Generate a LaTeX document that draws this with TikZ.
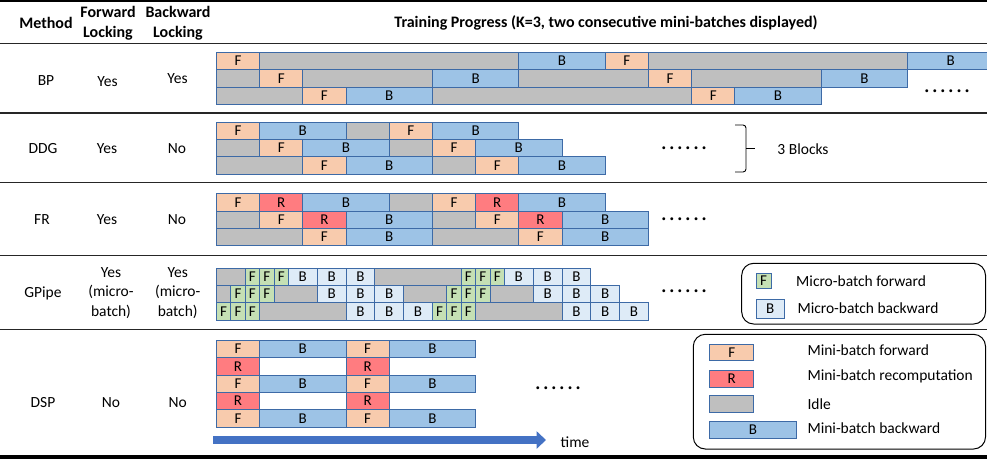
\documentclass[tikz,border=0pt]{standalone}
\usepackage{fontspec}
\setmainfont{Carlito}
\usetikzlibrary{arrows.meta}
\definecolor{fcol}{HTML}{F8CBAD}
\definecolor{rcol}{HTML}{FF7C80}
\definecolor{gcol}{HTML}{BFBFBF}
\definecolor{bcol}{HTML}{9DC3E6}
\definecolor{mfcol}{HTML}{C5E0B4}
\definecolor{mbcol}{HTML}{DEEBF7}
\definecolor{edgecol}{HTML}{3D6AA6}
\definecolor{arrcol}{HTML}{4472C4}
\newcounter{cellcnt}
\newcommand\bx[6]{%
  \stepcounter{cellcnt}%
  \node[cell,#1,minimum width={(#3-#2)*#6*1pt},anchor=north west] (c\arabic{cellcnt}) at ({216+#2*#6},#4) {#5};}
\newcommand\dotsix{.\kern2pt.\kern2pt.\kern2pt.\kern2pt.\kern2pt.}
\begin{document}
\begin{tikzpicture}[x=1pt,y=-1pt,
  cell/.style={draw=edgecol,line width=0.8pt,inner sep=0pt,minimum height=17.3pt,font=\fontsize{15}{18}\selectfont},
  fc/.style={fill=fcol}, rc/.style={fill=rcol}, gc/.style={fill=gcol}, bc/.style={fill=bcol},
  mf/.style={fill=mfcol}, mb/.style={fill=mbcol},
  txt/.style={font=\fontsize{15.5}{19}\selectfont,inner sep=0pt,align=center},
  hdr/.style={font=\fontsize{16}{20}\selectfont\bfseries,inner sep=0pt,align=center},
  rule/.style={line width=1.4pt,black!85},
  legbox/.style={draw=black,line width=1pt,rounded corners=12pt},
  dotsn/.style={font=\fontsize{24}{24}\selectfont,inner sep=0pt},
  lbl/.style={font=\fontsize{15.5}{19}\selectfont,inner sep=0pt,anchor=west}]
\useasboundingbox (0,0) rectangle (987,459);
\clip (0,0) rectangle (987,459);
% rules
\draw[line width=2pt,black] (0,1) -- (987,1);
\draw[line width=1.5pt,black!85] (0,43.5) -- (987,43.5);
\draw[rule] (0,113) -- (987,113);
\draw[rule] (0,182.7) -- (987,182.7);
\draw[rule] (0,255.7) -- (987,255.7);
\draw[rule] (0,329.5) -- (987,329.5);
\draw[line width=4pt,black] (0,456.5) -- (987,456.5);
% header
\node[hdr] (hm) at (46,23) {Method};
\node[hdr] (hf) at (108,23) {Forward\\Locking};
\node[hdr] (hb) at (178,23) {Backward\\Locking};
\node[hdr] (ht) at (606,23) {Training Progress (K=3, two consecutive mini-batches displayed)};
% row labels
\node[txt] (m1) at (46,81) {BP};
\node[txt] (f1) at (107.5,81.7) {Yes};
\node[txt] (b1) at (177.5,79) {Yes};
\node[txt] (m2) at (43,149) {DDG};
\node[txt] (f2) at (107,149) {Yes};
\node[txt] (b2) at (177,149) {No};
\node[txt] (m3) at (42,220) {FR};
\node[txt] (f3) at (107,220) {Yes};
\node[txt] (b3) at (177,220) {No};
\node[txt] (m4) at (43,293) {GPipe};
\node[txt,font=\fontsize{15.5}{19.3}\selectfont] (f4) at (111,293) {Yes\\(micro-\\batch)};
\node[txt,font=\fontsize{15.5}{19.3}\selectfont] (b4) at (177.7,293) {Yes\\(micro-\\batch)};
\node[txt] (m5) at (43,403) {DSP};
\node[txt] (f5) at (111,403) {No};
\node[txt] (b5) at (177.7,403) {No};
% BP
\foreach \s/\a/\b/\t in {fc/0/1/F, gc/1/7/{}, bc/7/9/B, fc/9/10/F, gc/10/16/{}, bc/16/18/B}
  {\bx{\s}{\a}{\b}{52}{\t}{43.2}}
\foreach \s/\a/\b/\t in {gc/0/1/{}, fc/1/2/F, gc/2/5/{}, bc/5/7/B, gc/7/10/{}, fc/10/11/F, gc/11/14/{}, bc/14/16/B}
  {\bx{\s}{\a}{\b}{69.3}{\t}{43.2}}
\foreach \s/\a/\b/\t in {gc/0/2/{}, fc/2/3/F, bc/3/5/B, gc/5/11/{}, fc/11/12/F, bc/12/14/B}
  {\bx{\s}{\a}{\b}{86.6}{\t}{43.2}}
\node[dotsn] (d1) at (947,91) {\dotsix};
% DDG
\foreach \s/\a/\b/\t in {fc/0/1/F, bc/1/3/B, gc/3/4/{}, fc/4/5/F, bc/5/7/B}
  {\bx{\s}{\a}{\b}{121.7}{\t}{43.2}}
\foreach \s/\a/\b/\t in {gc/0/1/{}, fc/1/2/F, bc/2/4/B, gc/4/5/{}, fc/5/6/F, bc/6/8/B}
  {\bx{\s}{\a}{\b}{139}{\t}{43.2}}
\foreach \s/\a/\b/\t in {gc/0/2/{}, fc/2/3/F, bc/3/5/B, gc/5/6/{}, fc/6/7/F, bc/7/9/B}
  {\bx{\s}{\a}{\b}{156.3}{\t}{43.2}}
\node[dotsn] (d2) at (684,148) {\dotsix};
\draw[line width=0.9pt,rounded corners=3pt] (735,125) -- (746,125) -- (746,172) -- (735,172);
\draw[line width=0.9pt] (746,148) -- (755,148);
\node[txt] (blk) at (803,149) {3 Blocks};
% FR
\foreach \s/\a/\b/\t in {fc/0/1/F, rc/1/2/R, bc/2/4/B, gc/4/5/{}, fc/5/6/F, rc/6/7/R, bc/7/9/B}
  {\bx{\s}{\a}{\b}{193.3}{\t}{43.2}}
\foreach \s/\a/\b/\t in {gc/0/1/{}, fc/1/2/F, rc/2/3/R, bc/3/5/B, gc/5/6/{}, fc/6/7/F, rc/7/8/R, bc/8/10/B}
  {\bx{\s}{\a}{\b}{210.6}{\t}{43.2}}
\foreach \s/\a/\b/\t in {gc/0/2/{}, fc/2/3/F, bc/3/5/B, gc/5/7/{}, fc/7/8/F, bc/8/10/B}
  {\bx{\s}{\a}{\b}{227.9}{\t}{43.2}}
\node[dotsn] (d3) at (684,219) {\dotsix};
% GPipe
\foreach \s/\a/\b/\t in {gc/0/2/{}, mf/2/3/F, mf/3/4/F, mf/4/5/F, mb/5/7/B, mb/7/9/B, mb/9/11/B, gc/11/17/{}, mf/17/18/F, mf/18/19/F, mf/19/20/F, mb/20/22/B, mb/22/24/B, mb/24/26/B}
  {\bx{\s}{\a}{\b}{267.7}{\t}{14.4}}
\foreach \s/\a/\b/\t in {gc/0/1/{}, mf/1/2/F, mf/2/3/F, mf/3/4/F, gc/4/7/{}, mb/7/9/B, mb/9/11/B, mb/11/13/B, gc/13/16/{}, mf/16/17/F, mf/17/18/F, mf/18/19/F, gc/19/22/{}, mb/22/24/B, mb/24/26/B, mb/26/28/B}
  {\bx{\s}{\a}{\b}{285}{\t}{14.4}}
\foreach \s/\a/\b/\t in {mf/0/1/F, mf/1/2/F, mf/2/3/F, gc/3/9/{}, mb/9/11/B, mb/11/13/B, mb/13/15/B, mf/15/16/F, mf/16/17/F, mf/17/18/F, gc/18/24/{}, mb/24/26/B, mb/26/28/B, mb/28/30/B}
  {\bx{\s}{\a}{\b}{302.3}{\t}{14.4}}
\node[dotsn] (d4) at (684,291.7) {\dotsix};
\draw[legbox] (741.7,263.3) rectangle (985.5,324);
\node[cell,mf,minimum width=15pt,minimum height=14.4pt,anchor=north west] (lgf) at (755.7,273.3) {F};
\node[cell,mb,minimum width=28.3pt,minimum height=18.4pt,anchor=north west] (lgb) at (755.7,299.3) {B};
\node[lbl] (lgft) at (796,280.7) {Micro-batch forward};
\node[lbl] (lgbt) at (797.3,308.3) {Micro-batch backward};
% DSP
\foreach \r in {340,374.6,409.2}
  {\foreach \s/\a/\b/\t in {fc/0/1/F, bc/1/3/B, fc/3/4/F, bc/4/6/B}
    {\bx{\s}{\a}{\b}{\r}{\t}{43.2}}}
\foreach \r in {357.3,391.9}
  {\foreach \s/\a/\b/\t in {rc/0/1/R, rc/3/4/R}
    {\bx{\s}{\a}{\b}{\r}{\t}{43.2}}}
\node[dotsn] (d5) at (558,388.3) {\dotsix};
\coordinate (tstart) at (213,440);
\coordinate (tend) at (546,440);
\draw[line width=8.6pt,arrcol,-{Triangle[length=9.5pt,width=17.3pt]}] (tstart) -- (tend);
\node[txt] (time) at (575,441.7) {time};
\draw[legbox] (693.3,334.3) rectangle (985.5,449);
\node[cell,fc,minimum width=44pt,minimum height=16pt,anchor=north west] (lf) at (709.3,344) {F};
\node[cell,rc,minimum width=44pt,minimum height=16.7pt,anchor=north west] (lr) at (709.3,370) {R};
\node[cell,gc,minimum width=44pt,minimum height=17.3pt,anchor=north west] (lg) at (709.3,395) {};
\node[cell,bc,minimum width=86.7pt,minimum height=17.3pt,anchor=north west] (lb) at (709.3,421) {B};
\node[lbl] (lft) at (807.3,350) {Mini-batch forward};
\node[lbl] (lrt) at (807.3,376.7) {Mini-batch recomputation};
\node[lbl] (lgt) at (807.3,404.3) {Idle};
\node[lbl] (lbt) at (807.3,428.3) {Mini-batch backward};
\end{tikzpicture}
\end{document}
